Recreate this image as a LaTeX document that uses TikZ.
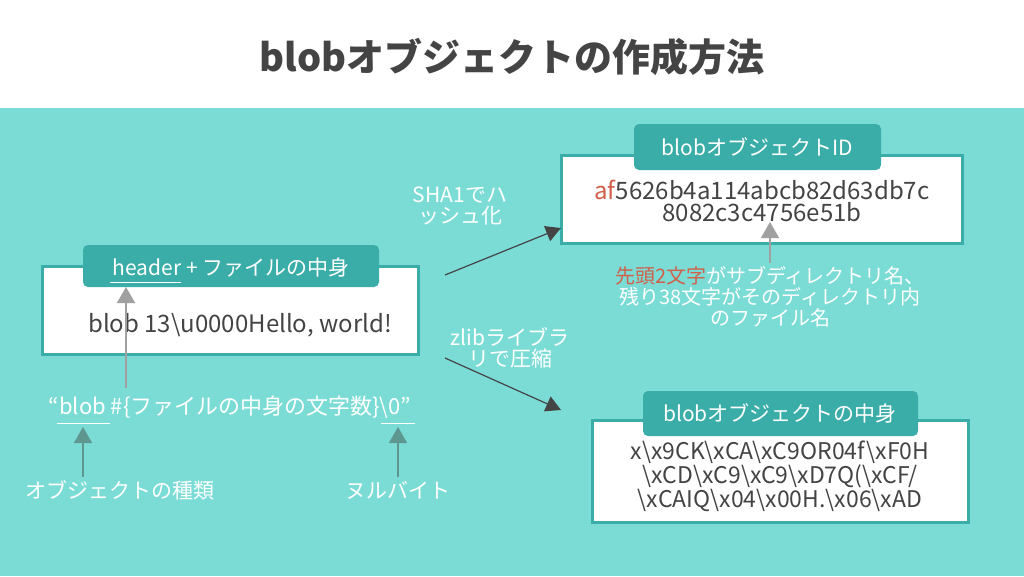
\documentclass[tikz,border=0pt]{standalone}
\usepackage{fontspec}
\setmainfont{Noto Sans CJK JP}
\usetikzlibrary{arrows.meta}
\definecolor{bgteal}{HTML}{7BDCD6}
\definecolor{tabteal}{HTML}{3AADA8}
\definecolor{darktxt}{HTML}{444444}
\definecolor{hashred}{HTML}{D0604A}
\definecolor{arrowgray}{HTML}{A0A0A0}
\definecolor{arrowteal}{HTML}{5E9690}
\tikzset{
  box/.style={draw=tabteal, line width=3pt, fill=white},
  tab/.style={fill=tabteal, rounded corners=5pt, text=white, font=\fontsize{21}{24}\selectfont},
  body/.style={text=darktxt, font=\fontsize{24}{22}\selectfont, align=center},
  note/.style={text=white, font=\fontsize{21}{21}\selectfont, align=center},
  flow/.style={-{Triangle[width=16pt,length=15pt]}, darktxt, line width=1.2pt},
  point/.style={-{Triangle[width=18pt,length=16pt]}, line width=1.5pt},
}
\begin{document}
\begin{tikzpicture}[x=1pt,y=-1pt]
\useasboundingbox (0,0) rectangle (1024,576);
% background
	\fill[white] (0,0) rectangle (1024,108);
	\fill[bgteal] (0,108) rectangle (1024,576);
	\node[text=darktxt, font=\bfseries\fontsize{38}{42}\selectfont] (title) at (512,57) {blobオブジェクトの作成方法};

% left box
	\draw[box] (42,266) rectangle (418,354);
	\fill[tab] (83,245) rectangle (379,287);
	\node[tab, fill=none] (htab) at (231,267) {header + ファイルの中身};
	\draw[white, line width=1pt] (110,282) -- (181,282);
	\node[body, font=\fontsize{24}{22}\selectfont] (content) at (240,325) {blob 13\textbackslash u0000Hello, world!};

	\node[note, font=\fontsize{22}{22}\selectfont] (fmt) at (230,407) {“blob \#\{ファイルの中身の文字数\}\textbackslash 0”};
	\draw[white, line width=1pt] (57,423) -- (110,423);
	\draw[white, line width=1pt] (381,423) -- (415,423);
	\coordinate (hfrom) at (126,388);
	\coordinate (hto) at (126,287);
	\draw[point, arrowgray] (hfrom) -- (hto);

	\node[note] (kind) at (120,490) {オブジェクトの種類};
	\node[note] (nul) at (398,490) {ヌルバイト};
	\coordinate (kto) at (83,427);
	\coordinate (nto) at (398,427);
	\draw[point, arrowteal] (kind.north -| kto) -- (kto);
	\draw[point, arrowteal] (nul.north) -- (nto);

% object id
	\draw[box] (561,155) rectangle (962,243);
	\fill[tab] (634,124) rectangle (881,170);
	\node[tab, fill=none] (idtab) at (757,147) {blobオブジェクトID};
	\node[body, inner sep=0pt] (hash) at (762,201) {\textcolor{hashred}{af}5626b4a114abcb82d63db7c\\8082c3c4756e51b};
	\node[note, font=\fontsize{20}{21}\selectfont] (idnote) at (770,297) {\textcolor{hashred}{先頭2文字}がサブディレクトリ名、\\残り38文字がそのディレクトリ内\\のファイル名};
	\coordinate (idto) at (770,222);
	\draw[point, arrowgray] (idnote.north) -- (idto);

% object content
	\draw[box] (592,420) rectangle (968,522);
	\fill[tab] (643,391) rectangle (918,436);
	\node[tab, fill=none] (ctab) at (780,413) {blobオブジェクトの中身};
	\node[body, inner sep=0pt, font=\fontsize{23}{21}\selectfont] (zdata) at (780,476) {x\textbackslash x9CK\textbackslash xCA\textbackslash xC9OR04f\textbackslash xF0H\\\textbackslash xCD\textbackslash xC9\textbackslash xC9\textbackslash xD7Q(\textbackslash xCF/\\\textbackslash xCAIQ\textbackslash x04\textbackslash x00H.\textbackslash x06\textbackslash xAD};

% flows
	\coordinate (s1) at (445,275);
	\coordinate (s2) at (445,358);
	\draw[flow] (s1) -- (561,228);
	\draw[flow] (s2) -- (561,410);
	\node[note] (sha) at (460,206) {SHA1でハ\\ッシュ化};
	\node[note] (zlib) at (510,348) {zlibライブラ\\リで圧縮};
\end{tikzpicture}
\end{document}
